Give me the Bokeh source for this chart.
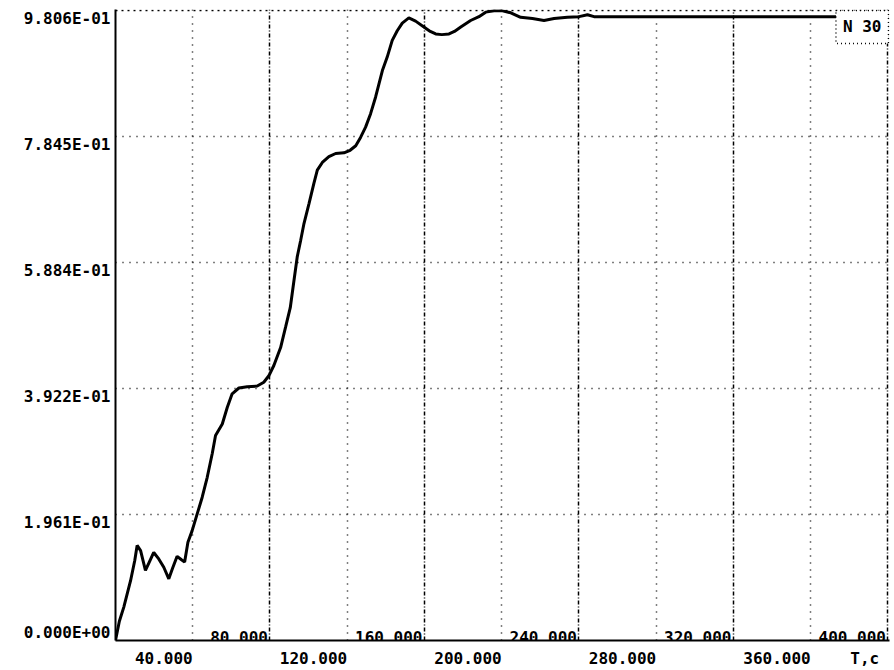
from bokeh.plotting import figure
from bokeh.models import Range1d, FixedTicker, CustomJSTickFormatter, Grid, Label
from bokeh.core.properties import value
from bokeh.embed import file_html
from bokeh.resources import INLINE

# ---- data ----
t = [0, 2, 4.3, 7.8, 10, 11.2, 13, 15.5, 17.5, 19.8, 22.4, 25, 27.6, 29.5, 31.9, 34, 35.8, 37.5,
     39.7, 42.3, 44.9, 47.5, 50.1, 51.8, 55.3, 57.9, 60.4, 63.9, 68.2, 73.4, 76.8, 79.4, 82,
     85.5, 88.1, 90.5, 92.4, 94.1, 95.9, 97.6, 100.2, 102.7, 104.5, 107.1, 110.5, 114, 118.3,
     121.5, 124.4, 126.9, 129.5, 132.1, 134.7, 136.4, 138.2, 140.7, 143.3, 145.9, 148.5, 151.9,
     155.4, 159.7, 163, 165.8, 169, 172.7, 175.5, 178.8, 183.9, 188.2, 191.7, 196, 200.4, 204.7,
     209.8, 215.9, 221.9, 227.1, 234, 240.1, 244.4, 247.8, 260, 300, 350, 400]
v = [0, 0.03, 0.052, 0.093, 0.125, 0.148, 0.14, 0.109, 0.122, 0.137, 0.127, 0.114, 0.096, 0.112,
     0.131, 0.126, 0.122, 0.153, 0.171, 0.197, 0.223, 0.254, 0.291, 0.319, 0.337, 0.363, 0.384,
     0.393, 0.395, 0.396, 0.402, 0.412, 0.428, 0.456, 0.488, 0.518, 0.56, 0.597, 0.623, 0.649,
     0.68, 0.711, 0.732, 0.744, 0.753, 0.758, 0.759, 0.763, 0.77, 0.783, 0.799, 0.82, 0.846, 0.866,
     0.887, 0.908, 0.934, 0.949, 0.961, 0.969, 0.964, 0.955, 0.948, 0.944, 0.943, 0.944, 0.948,
     0.955, 0.965, 0.971, 0.978, 0.98, 0.98, 0.977, 0.970, 0.968, 0.965, 0.968, 0.970, 0.971,
     0.974, 0.971, 0.971, 0.971, 0.971, 0.971]

y_ticks = [0.0, 0.1961, 0.3922, 0.5884, 0.7845, 0.9806]
y_labels = ["0.000E+00", "1.961E-01", "3.922E-01", "5.884E-01", "7.845E-01", "9.806E-01"]

x_below = [40, 120, 200, 280, 360]
x_below_labels = ["40.000", "120.000", "200.000", "280.000", "360.000"]
x_above = [80, 160, 240, 320, 400]
x_above_labels = ["80.000", "160.000", "240.000", "320.000", "400.000"]
x_title = "T,c"
legend_text = "N 30"

# ---- layout ----
FONT = "DejaVu Sans Mono"
FS = 16
W, H = 893, 670
BL, BR, BT, BB = 115, 4, 9, 30
x_end = 400.8
y_end = 0.9821
ppx = (W - BL - BR) / x_end
ppy = (H - BT - BB) / y_end

p = figure(width=W, height=H, output_backend="svg", toolbar_location=None,
           x_range=Range1d(0, x_end), y_range=Range1d(0, y_end),
           min_border_left=BL, min_border_right=BR, min_border_top=BT, min_border_bottom=BB)
p.outline_line_color = None
p.xgrid.visible = False
p.ygrid.visible = False

# grids
p.add_layout(Grid(dimension=1, ticker=FixedTicker(ticks=y_ticks[1:5]),
                  grid_line_color="black", grid_line_dash="1 6", grid_line_width=1.5))
p.add_layout(Grid(dimension=1, ticker=FixedTicker(ticks=[y_ticks[5]]),
                  grid_line_color="black", grid_line_dash="2 4", grid_line_width=1.5))
p.add_layout(Grid(dimension=0, ticker=FixedTicker(ticks=x_below),
                  grid_line_color="black", grid_line_dash="1 6", grid_line_width=1.5))
p.add_layout(Grid(dimension=0, ticker=FixedTicker(ticks=x_above),
                  grid_line_color="black", grid_line_dash="4 2 1 2", grid_line_width=1.5))

# curve
p.line(t, v, line_color="black", line_width=3)

# y axis: labels sit a little below their grid line (bottom one above the axis)
off = 8 / ppy
ylab_pos = [y_ticks[0] + off] + [yt - off for yt in y_ticks[1:]]
ya = p.yaxis[0]
ya.ticker = FixedTicker(ticks=ylab_pos)
ya.formatter = CustomJSTickFormatter(args=dict(labels=y_labels), code="return labels[index];")
ya.axis_line_width = 2
ya.axis_line_color = "black"
ya.major_tick_in = 0
ya.major_tick_out = 0
ya.minor_tick_line_color = None
ya.major_label_standoff = 5
ya.major_label_text_font = FONT
ya.major_label_text_font_style = "bold"
ya.major_label_text_font_size = f"{FS}px"
ya.major_label_text_color = "black"

# x axis: labels right-aligned at their grid line
char_w = 0.602 * FS
xb_pos = [x - len(s) * char_w / 2 / ppx for x, s in zip(x_below, x_below_labels)]
tc_pos = 388
xa = p.xaxis[0]
xa.ticker = FixedTicker(ticks=xb_pos + [tc_pos])
xa.formatter = CustomJSTickFormatter(args=dict(labels=x_below_labels + [x_title]),
                                     code="return labels[index];")
xa.axis_line_width = 2
xa.axis_line_color = "black"
xa.major_tick_in = 0
xa.major_tick_out = 0
xa.minor_tick_line_color = None
xa.major_label_standoff = 8
xa.major_label_text_font = FONT
xa.major_label_text_font_style = "bold"
xa.major_label_text_font_size = f"{FS}px"
xa.major_label_text_color = "black"

# labels above the axis, inside the plot
p.text(x=x_above, y=[0] * len(x_above), text=x_above_labels, text_align="right",
       text_baseline="alphabetic", x_offset=-2, y_offset=-4,
       text_font=value(FONT), text_font_style="bold", text_font_size=f"{FS}px",
       text_color="black")

# legend box
p.add_layout(Label(x=x_end, y=y_ticks[5], text=legend_text, text_align="right",
                   text_baseline="top", x_offset=-1,
                   text_font=FONT, text_font_style="bold", text_font_size=f"{FS}px",
                   text_color="black", padding=7,
                   border_line_color="black", border_line_dash="1 3", border_line_width=1.5,
                   background_fill_color="white"))

open("out.html", "w").write(file_html(p, INLINE))
